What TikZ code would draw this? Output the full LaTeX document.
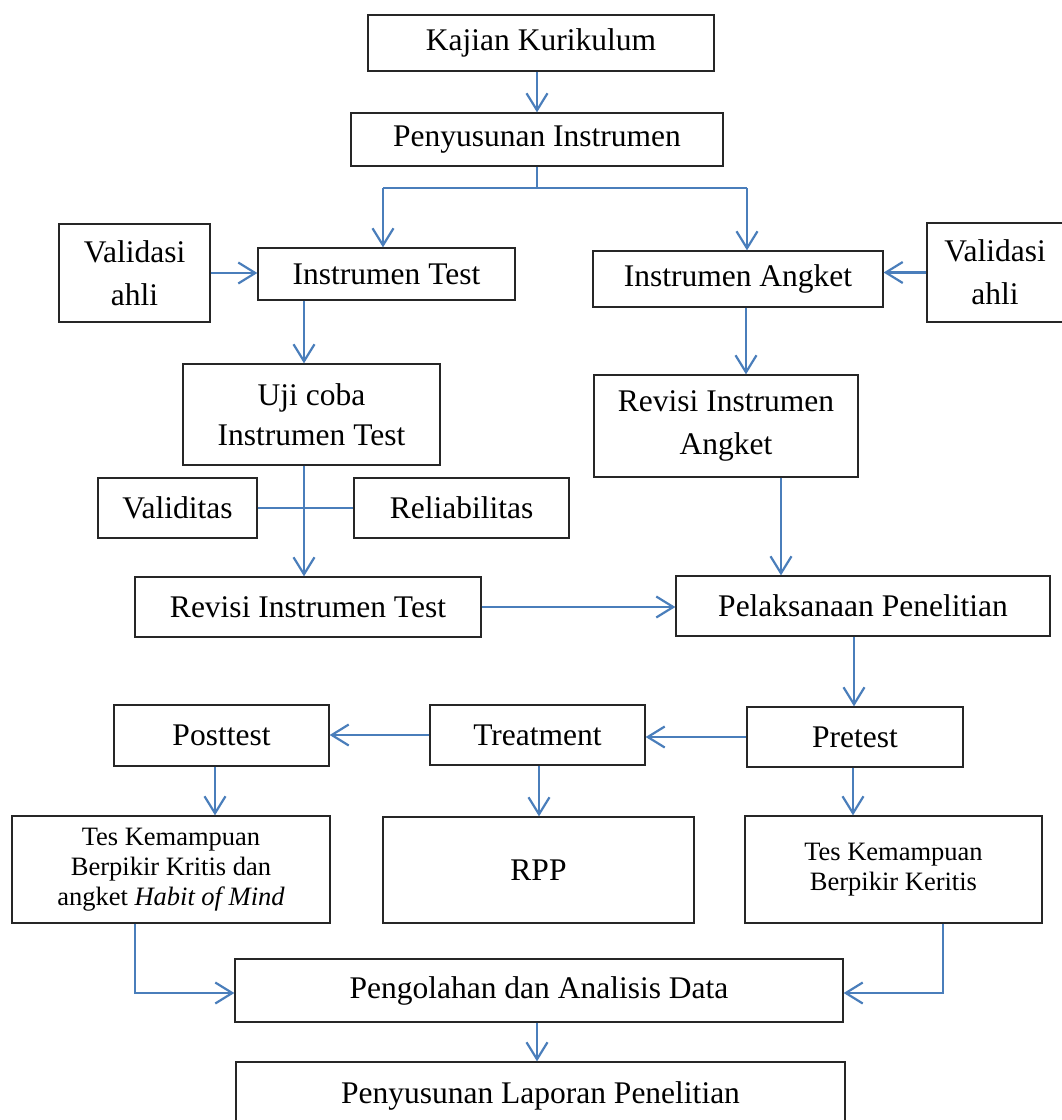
\documentclass[tikz,border=0pt]{standalone}
\usepackage{fontspec}
\setmainfont{Liberation Serif}
\usetikzlibrary{arrows.meta}
\definecolor{arrblue}{HTML}{4A7EBB}
\tikzset{
  box/.style={draw=black!85, line width=1.3pt, rectangle, inner sep=0pt, align=center,
    font=\fontsize{31.5}{40}\selectfont},
  smallbox/.style={box, font=\fontsize{26.5}{30}\selectfont},
  conn/.style={draw=arrblue, line width=2.2pt},
  arr/.style={conn, -{Straight Barb[length=17pt,width=21pt]}},
}
\begin{document}
\begin{tikzpicture}[x=1pt,y=-1pt]
\useasboundingbox (0,0) rectangle (1062,1120);
% nodes
\node[box, minimum width=346pt, minimum height=56pt] (kajian) at (541,43) {Kajian Kurikulum};
\node[box, minimum width=372pt, minimum height=53pt] (penyusunan) at (537,139.5) {\raisebox{-7pt}{Penyusunan Instrumen}};
\node[box, minimum width=151pt, minimum height=98pt] (valL) at (134.5,273) {Validasi\\[3pt]ahli};
\node[box, minimum width=257pt, minimum height=52pt] (itest) at (386.5,274) {Instrumen Test};
\node[box, minimum width=290pt, minimum height=56pt] (iangket) at (738,279) {Instrumen Angket};
\node[box, minimum width=136pt, minimum height=99pt] (valR) at (995,272.5) {Validasi\\[3pt]ahli};
\node[box, minimum width=257pt, minimum height=101pt] (ujicoba) at (311.5,414.5) {Uji coba\\Instrumen Test};
\node[box, minimum width=264pt, minimum height=102pt] (revangket) at (726,426) {Revisi Instrumen\\[3pt]Angket};
\node[box, minimum width=159pt, minimum height=60pt] (validitas) at (177.5,508) {Validitas};
\node[box, minimum width=215pt, minimum height=60pt] (reliab) at (461.5,508) {Reliabilitas};
\node[box, minimum width=346pt, minimum height=60pt] (revtest) at (308,607) {Revisi Instrumen Test};
\node[box, minimum width=374pt, minimum height=60pt] (pelaksanaan) at (863,606) {Pelaksanaan Penelitian};
\node[box, minimum width=215pt, minimum height=61pt] (posttest) at (221.5,735.5) {Posttest};
\node[box, minimum width=215pt, minimum height=60pt] (treatment) at (537.5,735) {Treatment};
\node[box, minimum width=216pt, minimum height=60pt] (pretest) at (855,737) {Pretest};
\node[smallbox, minimum width=318pt, minimum height=107pt] (teskritis) at (171,869.5) {Tes Kemampuan\\Berpikir Kritis dan\\angket \textit{Habit of Mind}};
\node[box, minimum width=311pt, minimum height=106pt] (rpp) at (538.5,870) {RPP};
\node[smallbox, minimum width=297pt, minimum height=107pt] (teskeritis) at (893.5,869.5) {Tes Kemampuan\\Berpikir Keritis};
\node[box, minimum width=608pt, minimum height=63pt] (pengolahan) at (539,990.5) {Pengolahan dan Analisis Data};
\node[box, minimum width=609pt, minimum height=68pt] (laporan) at (540.5,1096) {Penyusunan Laporan Penelitian};
% helper coordinates
\coordinate (xk) at (537,0);
\coordinate (split) at (537,188);
\coordinate (splitL) at (383,188);
\coordinate (splitR) at (747,188);
\coordinate (xt) at (304,0);
\coordinate (xa) at (746,0);
\coordinate (xra) at (781,0);
\coordinate (xp) at (854,0);
\coordinate (xpo) at (215,0);
\coordinate (xtr) at (539,0);
\coordinate (xpr) at (853,0);
\coordinate (xl) at (135,993);
\coordinate (xr) at (943,993);
\coordinate (xpg) at (537,0);
% connectors
\draw[arr] (kajian.south -| xk) -- (penyusunan.north -| xk);
\draw[conn] (penyusunan.south -| split) -- (split);
\draw[conn] (splitL) -- (splitR);
\draw[arr] (splitL) -- (splitL |- itest.north);
\draw[arr] (splitR) -- (splitR |- iangket.north);
\draw[arr] (valL.east) -- (valL.east -| itest.west);
\draw[arr] (valR.west) -- (valR.west -| iangket.east);
\draw[arr] (itest.south -| xt) -- (ujicoba.north -| xt);
\draw[arr] (iangket.south -| xa) -- (revangket.north -| xa);
\draw[arr] (ujicoba.south -| xt) -- (revtest.north -| xt);
\draw[conn] (validitas.east) -- (reliab.west);
\draw[arr] (revangket.south -| xra) -- (pelaksanaan.north -| xra);
\draw[arr] (revtest.east) -- (revtest.east -| pelaksanaan.west);
\draw[arr] (pelaksanaan.south -| xp) -- (pretest.north -| xp);
\draw[arr] (pretest.west) -- (pretest.west -| treatment.east);
\draw[arr] (treatment.west) -- (treatment.west -| posttest.east);
\draw[arr] (posttest.south -| xpo) -- (teskritis.north -| xpo);
\draw[arr] (treatment.south -| xtr) -- (rpp.north -| xtr);
\draw[arr] (pretest.south -| xpr) -- (teskeritis.north -| xpr);
\draw[arr] (teskritis.south -| xl) -- (xl) -- (xl -| pengolahan.west);
\draw[arr] (teskeritis.south -| xr) -- (xr) -- (xr -| pengolahan.east);
\draw[arr] (pengolahan.south -| xpg) -- (laporan.north -| xpg);
\end{tikzpicture}
\end{document}
